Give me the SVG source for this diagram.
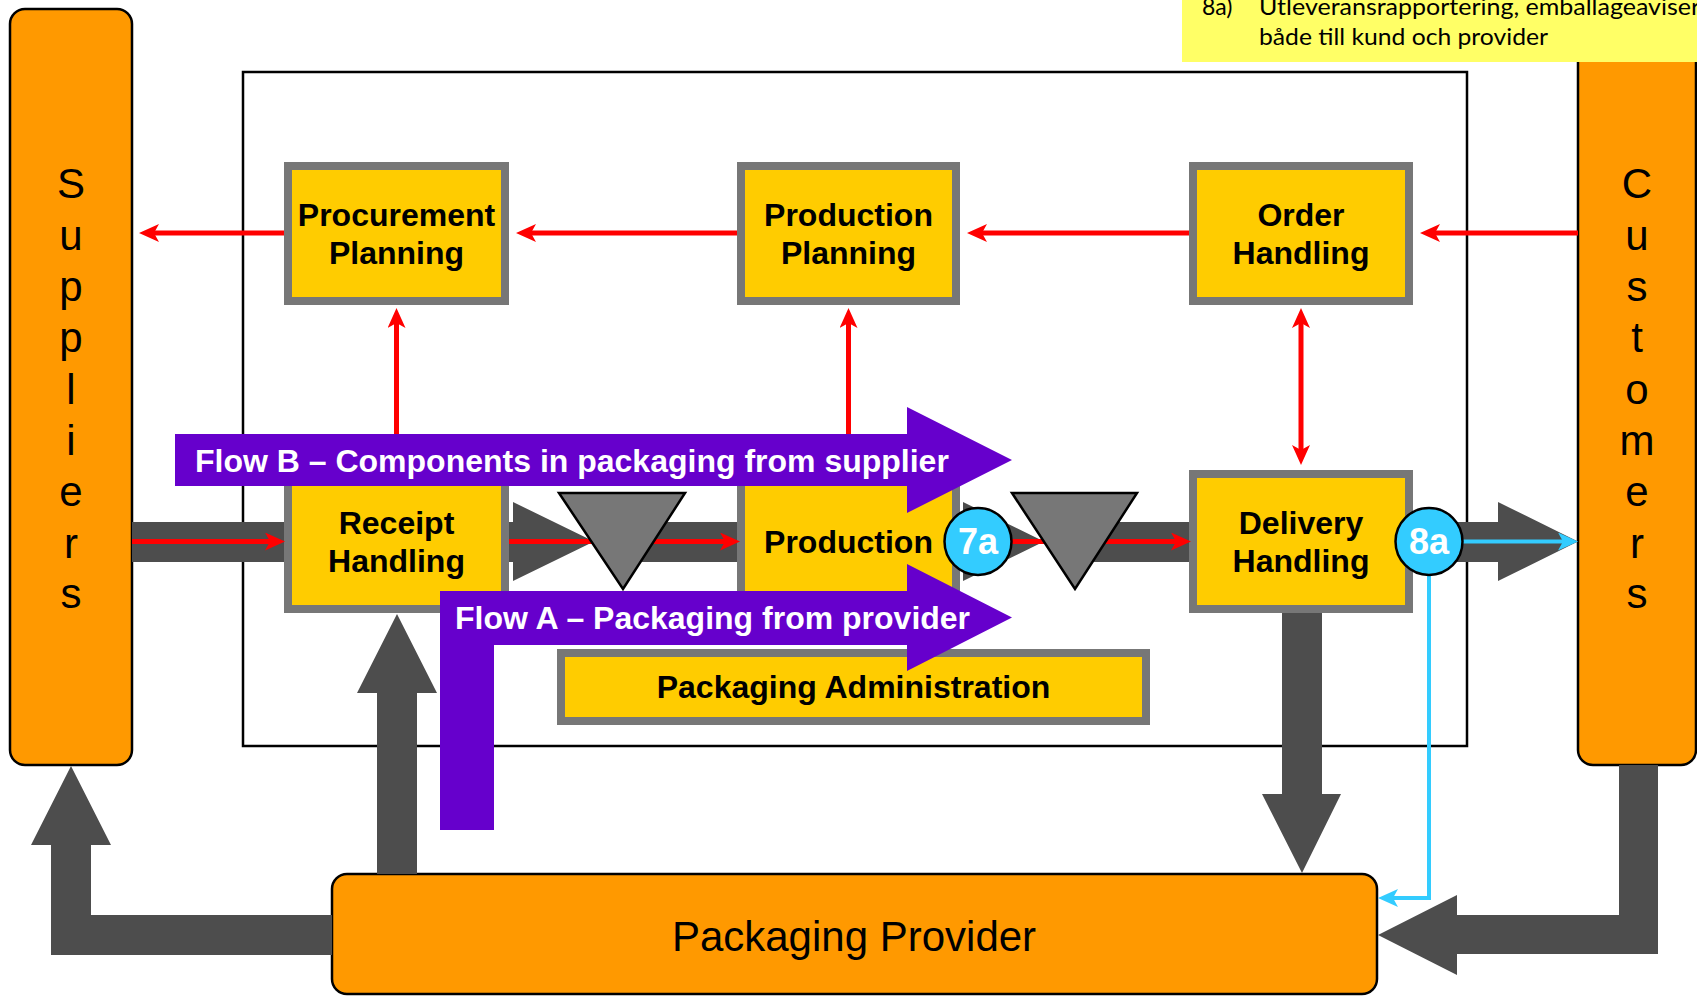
<svg xmlns="http://www.w3.org/2000/svg" width="1697" height="1001" viewBox="0 0 1697 1001">
<defs>
<style>
.frame{fill:none;stroke:#000;stroke-width:2.5}
.party{fill:#FF9900;stroke:#000;stroke-width:2.5}
.box{fill:#FFCC00;stroke:#777777;stroke-width:8}
.dark{fill:#4D4D4D}
.red{fill:none;stroke:#FF0000;stroke-width:5}
.cyan{fill:none;stroke:#33CCFF;stroke-width:4}
.flow{fill:#6600CC}
.inv{fill:#777777;stroke:#000;stroke-width:2.5;stroke-linejoin:miter}
.badge{fill:#33CCFF;stroke:#000;stroke-width:2.5}
.t{font-family:"Liberation Sans",Arial,sans-serif;font-weight:bold;font-size:32px;fill:#000;text-anchor:middle}
.fl{font-family:"Liberation Sans",Arial,sans-serif;font-weight:bold;font-size:32px;fill:#fff}
.bt{font-family:"Liberation Sans",Arial,sans-serif;font-weight:bold;font-size:36px;fill:#fff;text-anchor:middle}
.big{font-family:"Liberation Sans",Arial,sans-serif;font-size:42px;fill:#000;text-anchor:middle}
.note{font-family:Lato,"Open Sans",sans-serif;font-size:23px;fill:#000}
</style>
<marker id="ar" markerUnits="userSpaceOnUse" viewBox="0 0 20 18" refX="12" refY="9" markerWidth="20" markerHeight="18" orient="auto-start-reverse"><path d="M0,0 L20,9 L0,18 L5,9 Z" fill="#FF0000"/></marker>
<marker id="ac" markerUnits="userSpaceOnUse" viewBox="0 0 20 18" refX="12" refY="9" markerWidth="20" markerHeight="18" orient="auto"><path d="M0,0 L20,9 L0,18 L5,9 Z" fill="#33CCFF"/></marker>
</defs>
<rect width="1697" height="1001" fill="#fff"/>

<g id="frame"><rect class="frame" x="243" y="72" width="1224" height="674"/></g>

<g id="suppliers">
<rect class="party" x="10" y="9" width="122" height="756" rx="15"/>
<text class="big" x="71" y="198">S</text>
<text class="big" x="71" y="249.5">u</text>
<text class="big" x="71" y="301">p</text>
<text class="big" x="71" y="352">p</text>
<text class="big" x="71" y="403.5">l</text>
<text class="big" x="71" y="455">i</text>
<text class="big" x="71" y="506">e</text>
<text class="big" x="71" y="557.5">r</text>
<text class="big" x="71" y="608">s</text>
</g>

<g id="customers">
<rect class="party" x="1578" y="9" width="118" height="756" rx="15"/>
<text class="big" x="1637" y="198">C</text>
<text class="big" x="1637" y="249.5">u</text>
<text class="big" x="1637" y="301">s</text>
<text class="big" x="1637" y="352">t</text>
<text class="big" x="1637" y="403.5">o</text>
<text class="big" x="1637" y="455">m</text>
<text class="big" x="1637" y="506">e</text>
<text class="big" x="1637" y="557.5">r</text>
<text class="big" x="1637" y="608">s</text>
</g>

<g id="packaging-provider">
<rect class="party" x="332" y="874" width="1045" height="120" rx="15"/>
<text class="big" x="854" y="951">Packaging Provider</text>
</g>

<g id="procurement-planning">
<rect class="box" x="288" y="166" width="217" height="135"/>
<text class="t" x="396.5" y="226">Procurement</text>
<text class="t" x="396.5" y="264">Planning</text>
</g>
<g id="production-planning">
<rect class="box" x="741" y="166" width="215" height="135"/>
<text class="t" x="848.5" y="226">Production</text>
<text class="t" x="848.5" y="264">Planning</text>
</g>
<g id="order-handling">
<rect class="box" x="1193" y="166" width="216" height="135"/>
<text class="t" x="1301" y="226">Order</text>
<text class="t" x="1301" y="264">Handling</text>
</g>
<g id="receipt-handling">
<rect class="box" x="288" y="474" width="217" height="135"/>
<text class="t" x="396.5" y="534">Receipt</text>
<text class="t" x="396.5" y="572">Handling</text>
</g>
<g id="production">
<rect class="box" x="741" y="474" width="215" height="135"/>
<text class="t" x="848.5" y="553">Production</text>
</g>
<g id="delivery-handling">
<rect class="box" x="1193" y="474" width="216" height="135"/>
<text class="t" x="1301" y="534">Delivery</text>
<text class="t" x="1301" y="572">Handling</text>
</g>
<g id="packaging-administration">
<rect class="box" x="561" y="653" width="585" height="68"/>
<text class="t" x="853.5" y="698">Packaging Administration</text>
</g>

<g id="connectors">
<rect class="dark" x="132" y="522" width="152" height="40"/>
<polygon class="dark" points="509,522 513,522 513,502 594,541.5 513,581 513,562 509,562"/>
<rect class="dark" x="620" y="522" width="117" height="40"/>
<polygon class="dark" points="960,522 963,522 963,502 1044,541.5 963,581 963,562 960,562"/>
<rect class="dark" x="1075" y="522" width="114" height="40"/>
<polygon class="dark" points="1413,522 1498,522 1498,502 1578,541.5 1498,581 1498,562 1413,562"/>
<polygon class="dark" points="1282,613 1322,613 1322,794 1341,794 1302,873 1262,794 1282,794"/>
<polygon class="dark" points="1619,765 1658,765 1658,954 1457,954 1457,975 1378,935 1457,895 1457,915 1619,915"/>
<polygon class="dark" points="332,915 332,955 51,955 51,845 31,845 71,766 111,845 91,845 91,915"/>
<polygon class="dark" points="377,874 377,693 357,693 397,614 437,693 417,693 417,874"/>

<line class="red" x1="1578" y1="233" x2="1428" y2="233" marker-end="url(#ar)"/>
<line class="red" x1="1189" y1="233" x2="975" y2="233" marker-end="url(#ar)"/>
<line class="red" x1="737" y1="233" x2="524" y2="233" marker-end="url(#ar)"/>
<line class="red" x1="284" y1="233" x2="147" y2="233" marker-end="url(#ar)"/>
<line class="red" x1="396.5" y1="470" x2="396.5" y2="316" marker-end="url(#ar)"/>
<line class="red" x1="848.5" y1="470" x2="848.5" y2="316" marker-end="url(#ar)"/>
<line class="red" x1="1301" y1="316" x2="1301" y2="457" marker-start="url(#ar)" marker-end="url(#ar)"/>
<line class="red" x1="132" y1="541.5" x2="277" y2="541.5" marker-end="url(#ar)"/>
<line class="red" x1="509" y1="541.5" x2="732" y2="541.5" marker-end="url(#ar)"/>
<line class="red" x1="990" y1="541.5" x2="1183" y2="541.5" marker-end="url(#ar)"/>

<line class="cyan" x1="1462" y1="541.5" x2="1570" y2="541.5" marker-end="url(#ac)"/>
<polyline class="cyan" points="1429,575 1429,898 1386,898" marker-end="url(#ac)"/>
</g>

<g id="inventory-1"><polygon class="inv" points="559,493 685,493 623,589"/></g>
<g id="inventory-2"><polygon class="inv" points="1012,493 1137,493 1075,589"/></g>

<g id="flow-b">
<polygon class="flow" points="175,434 907,434 907,407 1012,460 907,513 907,486 175,486"/>
<text class="fl" x="195" y="471.5">Flow B – Components in packaging from supplier</text>
</g>
<g id="flow-a">
<polygon class="flow" points="440,830 440,591 907,591 907,564 1012,617.5 907,671 907,645 494,645 494,830"/>
<text class="fl" x="455" y="629">Flow A – Packaging from provider</text>
</g>

<g id="badge-7a">
<circle class="badge" cx="978" cy="541.5" r="33.5"/>
<text class="bt" x="978" y="554">7a</text>
</g>
<g id="badge-8a">
<circle class="badge" cx="1429" cy="541.5" r="33.5"/>
<text class="bt" x="1429" y="554">8a</text>
</g>

<g id="note">
<rect x="1182" y="0" width="515" height="62" fill="#FFFF66"/>
<text class="note" x="1202" y="15">8a)</text>
<text class="note" x="1259" y="15" textLength="474" lengthAdjust="spacingAndGlyphs">Utleveransrapportering, emballageavisering</text>
<text class="note" x="1259" y="45" textLength="289" lengthAdjust="spacingAndGlyphs">både till kund och provider</text>
</g>
</svg>
